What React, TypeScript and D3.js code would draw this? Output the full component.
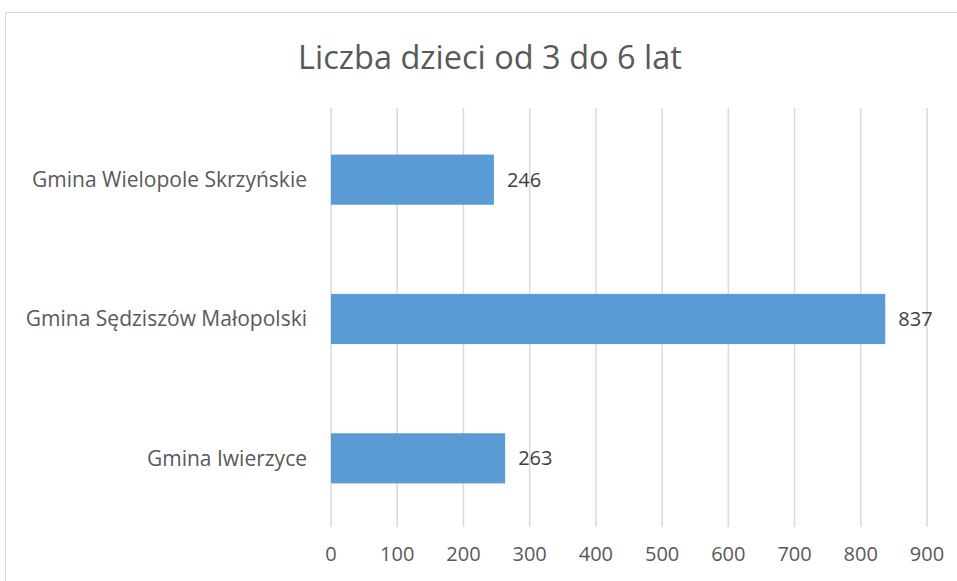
import React, { useEffect, useRef } from "react";
import * as d3 from "d3";

const categories = [
  "Gmina Wielopole Skrzyńskie",
  "Gmina Sędziszów Małopolski",
  "Gmina Iwierzyce",
];
const values = [246, 837, 263];
const ticks = [0, 100, 200, 300, 400, 500, 600, 700, 800, 900];
const title = "Liczba dzieci od 3 do 6 lat";

const App = () => {
  const svgRef = useRef<SVGSVGElement>(null);

  useEffect(() => {
    const width = 957;
    const height = 581;
    const font = "'Open Sans', 'Noto Sans', sans-serif";
    const textColor = "#595959";

    const svg = d3.select(svgRef.current);
    svg.selectAll("*").remove();
    svg.attr("width", width).attr("height", height);

    svg
      .append("rect")
      .attr("x", 5.5)
      .attr("y", 12.5)
      .attr("width", 1000)
      .attr("height", 1000)
      .attr("fill", "white")
      .attr("stroke", "#d9d9d9");

    svg
      .append("text")
      .attr("x", 490)
      .attr("y", 69)
      .attr("text-anchor", "middle")
      .style("font-family", font)
      .style("font-size", "32.5px")
      .attr("fill", textColor)
      .text(title);

    const x = d3.scaleLinear().domain([0, 900]).range([331, 927]);
    const y = d3
      .scaleBand()
      .domain(categories)
      .range([110, 528])
      .paddingInner(0.64)
      .paddingOuter(0.32);

    svg
      .append("g")
      .selectAll("line")
      .data(ticks)
      .join("line")
      .attr("x1", (d) => x(d))
      .attr("x2", (d) => x(d))
      .attr("y1", 108)
      .attr("y2", 527)
      .attr("stroke", "#d9d9d9")
      .attr("stroke-width", 1.5);

    svg
      .append("g")
      .selectAll("text")
      .data(ticks)
      .join("text")
      .attr("x", (d) => x(d))
      .attr("y", 561)
      .attr("text-anchor", "middle")
      .style("font-family", font)
      .style("font-size", "20px")
      .attr("fill", textColor)
      .text((d) => d);

    svg
      .append("g")
      .selectAll("rect")
      .data(values)
      .join("rect")
      .attr("x", x(0))
      .attr("y", (d, i) => y(categories[i])!)
      .attr("width", (d) => x(d) - x(0))
      .attr("height", y.bandwidth())
      .attr("fill", "#5b9bd5");

    svg
      .append("g")
      .selectAll("text")
      .data(values)
      .join("text")
      .attr("x", (d) => x(d) + 13)
      .attr("y", (d, i) => y(categories[i])! + y.bandwidth() / 2)
      .attr("dy", "0.35em")
      .style("font-family", font)
      .style("font-size", "20px")
      .attr("fill", "#404040")
      .text((d) => d);

    svg
      .append("g")
      .selectAll("text")
      .data(categories)
      .join("text")
      .attr("x", 307)
      .attr("y", (d) => y(d)! + y.bandwidth() / 2)
      .attr("dy", "0.35em")
      .attr("text-anchor", "end")
      .style("font-family", font)
      .style("font-size", "21px")
      .attr("fill", textColor)
      .text((d) => d);
  }, []);

  return (
    <div style={{ position: "absolute", left: 0, top: 0 }}>
      <svg ref={svgRef} style={{ display: "block" }}></svg>
    </div>
  );
};

export default App;
